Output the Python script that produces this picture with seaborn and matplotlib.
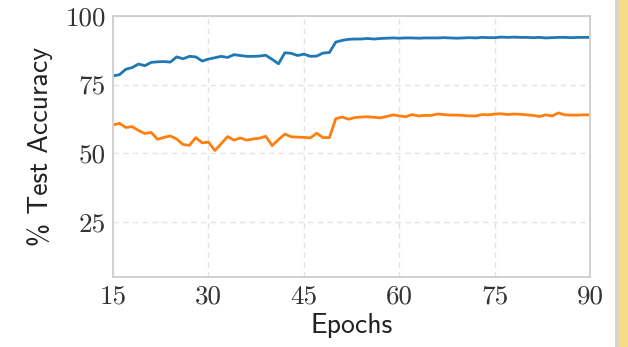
import numpy as np
import pandas as pd
import matplotlib
matplotlib.use("Agg")
import matplotlib.pyplot as plt
import seaborn as sns
from matplotlib.patches import Rectangle

# Epoch axis and the two accuracy curves (percent)
epochs = list(range(15, 91))

acc_high = [
    78.2, 78.6, 80.6, 81.2, 82.5, 81.9, 83.1, 83.3, 83.4, 83.2,
    85.1, 84.4, 85.3, 85.1, 83.6, 84.3, 84.8, 85.3, 84.9, 85.9,
    85.6, 85.3, 85.3, 85.4, 85.7, 84.2, 82.6, 86.6, 86.4, 85.6,
    86.1, 85.3, 85.4, 86.5, 86.7, 90.5, 91.1, 91.5, 91.6, 91.6,
    91.8, 91.6, 91.8, 91.9, 92.0, 91.9, 92.0, 92.0, 91.9, 92.0,
    92.0, 92.0, 92.1, 92.0, 91.9, 92.0, 92.1, 92.0, 92.2, 92.1,
    92.1, 92.3, 92.2, 92.3, 92.2, 92.2, 92.1, 92.2, 92.0, 92.1,
    92.2, 92.2, 92.1, 92.2, 92.2, 92.2,
]

acc_low = [
    60.3, 60.9, 59.4, 59.7, 58.3, 57.2, 57.6, 55.1, 55.8, 56.3,
    55.2, 53.2, 52.9, 55.7, 53.8, 54.1, 51.0, 53.5, 56.1, 54.8,
    55.6, 54.8, 55.2, 55.5, 56.2, 52.8, 55.0, 57.0, 56.0, 55.9,
    55.8, 55.6, 57.3, 55.7, 55.7, 62.6, 63.2, 62.4, 63.0, 63.2,
    63.3, 63.1, 62.9, 63.4, 64.0, 63.6, 63.3, 64.1, 63.6, 63.8,
    63.8, 64.3, 64.1, 63.9, 63.9, 63.8, 63.6, 63.6, 64.1, 64.0,
    64.3, 64.4, 64.1, 64.3, 64.2, 64.0, 63.8, 63.4, 64.0, 63.6,
    64.7, 64.0, 63.9, 63.9, 64.0, 64.0,
]

x_ticks = [15, 30, 45, 60, 75, 90]
y_ticks = [25, 50, 75, 100]

df = pd.DataFrame({
    "epoch": epochs * 2,
    "acc": acc_high + acc_low,
    "series": ["high"] * len(epochs) + ["low"] * len(epochs),
})

sns.set_theme(style="whitegrid")
plt.rcParams.update({
    "grid.linestyle": (0, (4, 3)),
    "grid.color": "#e3e3e3",
    "grid.linewidth": 1.0,
    "axes.edgecolor": "#d0d0d0",
    "axes.linewidth": 1.4,
})

fig = plt.figure(figsize=(6.28, 3.47), dpi=100)
ax = fig.add_axes([0.180, 0.202, 0.760, 0.752])

sns.lineplot(
    data=df, x="epoch", y="acc", hue="series",
    palette=["#1f77b4", "#ff7f0e"], linewidth=2.0,
    legend=False, ax=ax,
)

ax.set_xlim(15, 90)
ax.set_ylim(5, 100)
ax.set_xticks(x_ticks)
ax.set_yticks(y_ticks)
ax.set_xticklabels([str(t) for t in x_ticks], fontfamily="cmr10", fontsize=19.5)
ax.set_yticklabels([str(t) for t in y_ticks], fontfamily="cmr10", fontsize=19.5)
ax.tick_params(axis="both", length=0, colors="#333333")
ax.tick_params(axis="x", pad=6)
ax.tick_params(axis="y", pad=5)

ax.set_xlabel("Epochs", fontfamily="cmss10", fontsize=20, color="#222222", labelpad=3)
ax.set_ylabel("% Test Accuracy", fontfamily="cmss10", fontsize=20, color="#222222", labelpad=9)

for s in ax.spines.values():
    s.set_visible(True)
    s.set_color("#d0d0d0")

# slide edge on the right
fig.patches.append(Rectangle((0.979, 0), 0.008, 1, transform=fig.transFigure,
                             facecolor="#dcd6c4", edgecolor="none", zorder=0))
fig.patches.append(Rectangle((0.985, 0), 0.015, 1, transform=fig.transFigure,
                             facecolor="#f7dc88", edgecolor="none", zorder=0))

fig.savefig("out.png", dpi=100)
